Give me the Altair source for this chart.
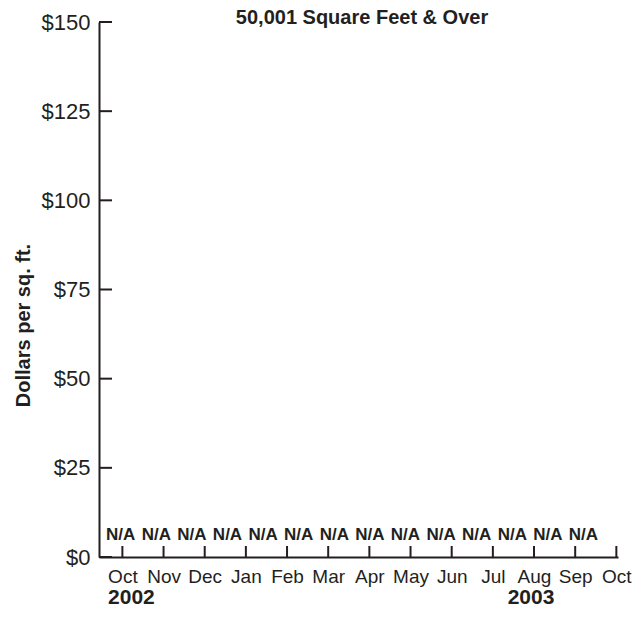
import altair as alt
import pandas as pd

# ---- data ----
months = ["Oct", "Nov", "Dec", "Jan", "Feb", "Mar", "Apr", "May", "Jun", "Jul", "Aug", "Sep", "Oct"]
month_index = list(range(len(months)))
y_ticks = [0, 25, 50, 75, 100, 125, 150]
na_slots = list(range(14))
na_labels = ["N/A"] * 14
na_values = [0] * 14
years = ["2002", "2003"]
year_anchor = [0, 10]
chart_title = ["50,001 Square Feet & Over"]

INK = "#231f20"
FONT = "Liberation Sans, Arial, Helvetica, sans-serif"

W, H = 519, 535
x_dom = [-0.568, 12.04]
na_dom = [-0.61, 13.97]

df_m = pd.DataFrame({"m": month_index, "label": months})
df_y = pd.DataFrame({"v": y_ticks})
df_na = pd.DataFrame({"idx": na_slots, "txt": na_labels, "val": na_values})
df_yr = pd.DataFrame({"year": years, "m": year_anchor})
df_t = pd.DataFrame({"t": chart_title})

label_expr = "[" + ",".join('"%s"' % s for s in months) + "][datum.value]"

x_axis = alt.Axis(
    orient="bottom", values=month_index, labelExpr=label_expr, title=None,
    grid=False, ticks=False, tickSize=0, domain=True, domainColor=INK, domainWidth=2,
    labelFont=FONT, labelFontSize=19, labelColor=INK, labelBaseline="alphabetic",
    labelPadding=25, labelFlush=False, labelOverlap=False,
)
y_axis = alt.Axis(
    values=y_ticks, labelExpr='"$" + datum.value', title="Dollars per sq. ft.",
    grid=False, ticks=False, tickSize=0, domain=True, domainColor=INK, domainWidth=2,
    labelFont=FONT, labelFontSize=22, labelColor=INK, labelPadding=9,
    labelFlush=False, labelOverlap=False,
    titleFont=FONT, titleFontSize=20, titleFontWeight="bold", titleColor=INK,
    titleX=-66, titleY=303, titleBaseline="bottom", titleAngle=270,
)
y_scale = alt.Scale(domain=[0, 150], nice=False, zero=True)

x_ticks = alt.Chart(df_m).mark_rule(color=INK, strokeWidth=2).encode(
    x=alt.X("m:Q", scale=alt.Scale(domain=x_dom, nice=False, zero=False), axis=x_axis),
    y=alt.value(H), y2=alt.value(H - 11),
)

y_tick_marks = alt.Chart(df_y).mark_rule(color=INK, strokeWidth=2).encode(
    y=alt.Y("v:Q", scale=y_scale, axis=y_axis),
    x=alt.value(0), x2=alt.value(13),
)

na_text = alt.Chart(df_na).mark_text(
    font=FONT, fontWeight="bold", fontSize=17, color=INK, baseline="alphabetic", dy=-17
).encode(
    x=alt.X("idx:Q", scale=alt.Scale(domain=na_dom, nice=False, zero=False), axis=None),
    y=alt.Y("val:Q", scale=y_scale),
    text="txt:N",
)

yr_scale = alt.Scale(domain=x_dom, nice=False, zero=False)
yr1 = alt.Chart(df_yr).transform_filter(alt.datum.year == "2002").mark_text(
    font=FONT, fontWeight="bold", fontSize=21, color=INK, baseline="alphabetic", align="center", dx=9
).encode(x=alt.X("m:Q", scale=yr_scale, axis=None), y=alt.value(H + 47), text="year:N")
yr2 = alt.Chart(df_yr).transform_filter(alt.datum.year == "2003").mark_text(
    font=FONT, fontWeight="bold", fontSize=21, color=INK, baseline="alphabetic", align="center", dx=-3
).encode(x=alt.X("m:Q", scale=yr_scale, axis=None), y=alt.value(H + 47), text="year:N")

title_text = alt.Chart(df_t).mark_text(
    font=FONT, fontWeight="bold", fontSize=20, color=INK, baseline="alphabetic", align="center"
).encode(x=alt.value(263), y=alt.value(2), text="t:N")

chart = alt.layer(x_ticks, y_tick_marks, na_text, yr1, yr2, title_text).resolve_scale(
    x="independent"
).properties(
    width=W, height=H,
    autosize=alt.AutoSizeParams(type="none"),
    padding={"left": 91, "top": 14, "right": 18, "bottom": 51},
    background="white",
).configure_view(stroke=None)

chart.save("out.html", embed_options={"renderer": "svg", "actions": False})
